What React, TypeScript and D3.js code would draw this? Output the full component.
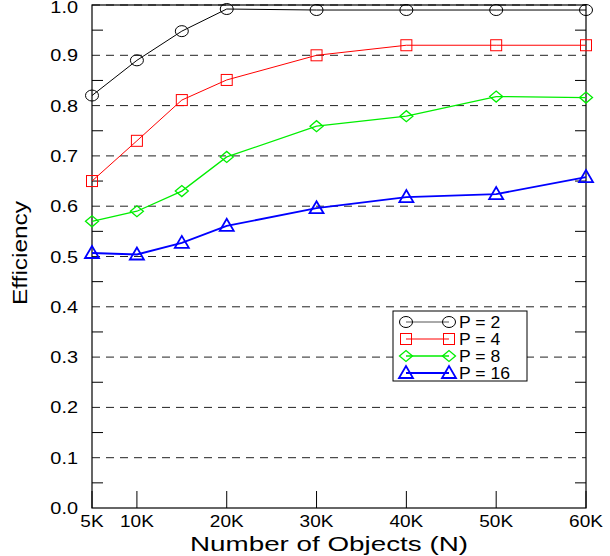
import React from "react";
import * as d3 from "d3";

const xValues = [5, 10, 15, 20, 30, 40, 50, 60];
const xTicks = [5, 10, 20, 30, 40, 50, 60];
const xTickLabels = ["5K", "10K", "20K", "30K", "40K", "50K", "60K"];
const yTicks = [0, 0.1, 0.2, 0.3, 0.4, 0.5, 0.6, 0.7, 0.8, 0.9, 1.0];
const p2 = [0.82, 0.89, 0.948, 0.992, 0.99, 0.99, 0.99, 0.99];
const p4 = [0.65, 0.73, 0.811, 0.851, 0.9, 0.92, 0.92, 0.92];
const p8 = [0.57, 0.59, 0.63, 0.698, 0.759, 0.779, 0.818, 0.816];
const p16 = [0.507, 0.504, 0.527, 0.561, 0.596, 0.618, 0.624, 0.658];
const seriesNames = ["P = 2", "P = 4", "P = 8", "P = 16"];

const W = 610, H = 556;
const L = 92, R = 586, T = 5, B = 508;
const FONT = "'Liberation Sans', Arial, sans-serif";

function Marker({ kind, x, y, color }: { kind: string; x: number; y: number; color: string }) {
  if (kind === "circle") return <ellipse cx={x} cy={y} rx={6.5} ry={5.5} fill="none" stroke={color} strokeWidth={1} />;
  if (kind === "square") return <rect x={x - 5.5} y={y - 5.5} width={11} height={11} fill="none" stroke={color} strokeWidth={1} />;
  if (kind === "diamond") return <path d={`M${x - 6.5},${y}L${x},${y - 5.5}L${x + 6.5},${y}L${x},${y + 5.5}Z`} fill="none" stroke={color} strokeWidth={1.3} />;
  return <path d={`M${x - 7},${y + 5}L${x + 7},${y + 5}L${x},${y - 7}Z`} fill="none" stroke={color} strokeWidth={1.8} />;
}

export default function App() {
  const x = d3.scaleLinear().domain([5, 60]).range([L, R]);
  const y = d3.scaleLinear().domain([0, 1]).range([B, T]);
  const series = [
    { name: seriesNames[0], vals: p2, color: "#000000", kind: "circle", w: 1 },
    { name: seriesNames[1], vals: p4, color: "#ff0000", kind: "square", w: 1 },
    { name: seriesNames[2], vals: p8, color: "#00ee00", kind: "diamond", w: 1.3 },
    { name: seriesNames[3], vals: p16, color: "#0000ff", kind: "triangle", w: 1.8 },
  ];
  const line = d3.line<number>().x((_, i) => x(xValues[i])).y((v) => y(v));
  const minor = d3.range(0.05, 1, 0.1);
  const lgX = 393, lgY = 311;
  return (
    <svg width={W} height={H} style={{ position: "absolute", left: 0, top: 0 }} fontFamily={FONT}>
      <rect width={W} height={H} fill="#fff" />
      {yTicks.slice(1).map((t) => (
        <line key={t} x1={L} x2={R} y1={y(t)} y2={y(t)} stroke="#222" strokeWidth={1} strokeDasharray="8,6" />
      ))}
      {minor.map((t) => (
        <g key={t}>
          <line x1={L} x2={L + 11} y1={y(t)} y2={y(t)} stroke="#000" />
          <line x1={R - 11} x2={R} y1={y(t)} y2={y(t)} stroke="#000" />
        </g>
      ))}
      {xTicks.map((t) => (
        <line key={t} x1={x(t)} x2={x(t)} y1={B} y2={B - 17} stroke="#000" />
      ))}
      <rect x={L} y={T} width={R - L} height={B - T} fill="none" stroke="#000" strokeWidth={1.2} />
      {yTicks.map((t) => (
        <text key={t} transform={`translate(78,${Math.max(y(t) + 6, 13)}) scale(1.17,1)`} textAnchor="end" fontSize={17}>{t.toFixed(1)}</text>
      ))}
      {xTicks.map((t, i) => (
        <text key={t} transform={`translate(${x(t)},527) scale(1.12,1)`} textAnchor="middle" fontSize={17}>{xTickLabels[i]}</text>
      ))}
      <text x={329} y={551} textAnchor="middle" fontSize={21} textLength={278} lengthAdjust="spacingAndGlyphs">Number  of  Objects  (N)</text>
      <text transform={`translate(27,${253}) rotate(-90)`} textAnchor="middle" fontSize={20} textLength={104} lengthAdjust="spacingAndGlyphs">Efficiency</text>
      {series.map((s) => (
        <g key={s.name}>
          <path d={line(s.vals) || ""} fill="none" stroke={s.color} strokeWidth={s.w} />
          {s.vals.map((v, i) => (
            <Marker key={i} kind={s.kind} x={x(xValues[i])} y={y(v)} color={s.color} />
          ))}
        </g>
      ))}
      <rect x={lgX} y={lgY} width={134} height={70} fill="#fff" stroke="#000" strokeWidth={1} />
      {series.map((s, i) => {
        const yy = lgY + 11 + i * 17;
        return (
          <g key={s.name}>
            <line x1={406} x2={449} y1={yy} y2={yy} stroke={s.color === "#000000" ? "#555" : s.color} strokeWidth={s.w} />
            <Marker kind={s.kind} x={406} y={yy} color={s.color} />
            <Marker kind={s.kind} x={449} y={yy} color={s.color} />
            <text transform={`translate(459,${yy + 6}) scale(1.1,1)`} fontSize={16}>{s.name}</text>
          </g>
        );
      })}
    </svg>
  );
}
